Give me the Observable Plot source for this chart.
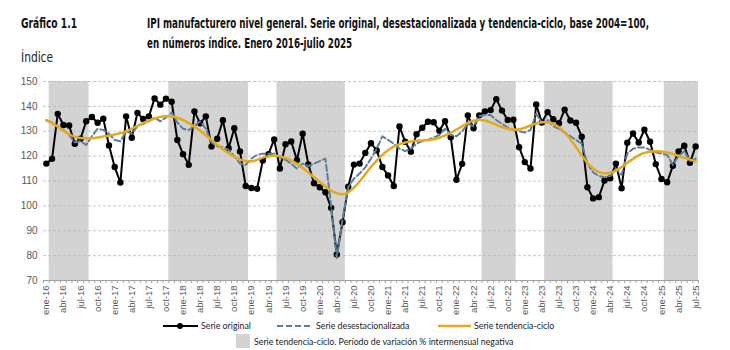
<!DOCTYPE html>
<html><head><meta charset="utf-8">
<script src="https://cdn.jsdelivr.net/npm/d3@7"></script>
<script src="https://cdn.jsdelivr.net/npm/@observablehq/plot@0.6"></script>
<style>
body{margin:0;background:#fff;width:730px;height:350px;position:relative;overflow:hidden;font-family:"Liberation Sans",Arial,sans-serif}
.t{position:absolute;font-family:"Liberation Sans Narrow","Arial Narrow","DejaVu Sans Condensed",sans-serif;font-weight:bold;font-size:14px;color:#111;white-space:nowrap;line-height:20px}
.t span, #ind span{display:inline-block;transform-origin:0 50%;white-space:nowrap}
#ind{position:absolute;left:21px;top:49px;font-family:"Liberation Sans Narrow","Arial Narrow","DejaVu Sans Condensed",sans-serif;font-size:14px;color:#222}
#chart{position:absolute;left:0;top:70px}
.leg{position:absolute;font-family:Lato,"Open Sans",sans-serif;font-size:8.8px;color:#222;white-space:nowrap;line-height:12px}
svg.sym{position:absolute}
</style></head><body>
<div class="t" style="left:21px;top:13px"><span id="g">Gráfico 1.1</span></div>
<div class="t" style="left:147px;top:13px"><span id="l1">IPI manufacturero nivel general. Serie original, desestacionalizada y tendencia-ciclo, base 2004=100,</span><br><span id="l2">en números índice. Enero 2016-julio 2025</span></div>
<div id="ind"><span id="ii">Índice</span></div>
<div id="chart"></div>

<svg class="sym" style="left:160px;top:320px" width="42" height="12"><line x1="3" y1="6" x2="38" y2="6" stroke="#000" stroke-width="2"/><circle cx="20" cy="6" r="3" fill="#000"/></svg>
<div class="leg" style="left:201px;top:320px">Serie original</div>
<svg class="sym" style="left:275px;top:320px" width="42" height="12"><line x1="2" y1="6" x2="37" y2="6" stroke="#5f7d99" stroke-width="2" stroke-dasharray="6,3"/></svg>
<div class="leg" style="left:316px;top:320px">Serie desestacionalizada</div>
<svg class="sym" style="left:436px;top:320px" width="42" height="12"><line x1="2" y1="6" x2="35" y2="6" stroke="#e2aa1c" stroke-width="2.5"/></svg>
<div class="leg" style="left:474px;top:320px">Serie tendencia-ciclo</div>
<svg class="sym" style="left:236px;top:334px" width="14" height="14"><rect x="0" y="0" width="14" height="14" fill="#d3d3d3"/></svg>
<div class="leg" style="left:254px;top:336px">Serie tendencia-ciclo. Período de variación % intermensual negativa</div>

<script>
const original = [117.0,118.9,137.0,132.5,132.3,125.0,127.0,134.0,135.7,133.4,
135.0,124.3,115.6,109.4,136.0,127.4,137.4,134.9,136.0,143.2,
140.7,143.1,141.9,126.5,120.8,116.5,138.0,133.2,136.0,123.9,
127.0,134.4,123.2,131.2,121.9,108.0,107.2,106.9,118.2,120.8,
126.7,115.0,124.8,125.9,118.4,129.0,116.7,109.1,107.5,105.5,
99.2,80.5,93.4,107.7,116.6,117.0,121.3,125.2,122.3,115.6,
112.2,108.0,131.9,125.8,121.8,128.8,131.4,133.8,133.6,130.2,
134.0,127.6,110.5,116.9,136.4,131.2,136.4,138.0,138.5,142.9,
138.3,134.5,134.6,123.6,117.6,115.0,140.8,133.5,137.7,134.8,
133.2,138.7,134.3,133.4,127.8,107.5,103.0,103.5,110.2,111.1,
117.0,107.1,125.4,129.1,125.5,130.6,125.8,116.8,110.8,109.5,
116.1,121.9,124.2,117.3,123.9];

const deseasonalized = [134.5,133.5,132.0,130.5,128.5,125.5,126.0,124.5,128.0,131.0,
130.5,129.0,126.5,126.0,130.0,129.0,132.0,133.0,134.0,135.5,
134.0,135.5,137.5,133.5,131.0,130.5,132.0,134.0,131.0,125.5,
124.0,123.5,122.5,120.0,117.0,116.5,119.0,120.5,121.0,121.0,
121.0,119.5,118.5,117.0,115.0,117.0,116.0,117.0,118.0,119.0,
100.0,79.0,94.5,107.5,111.0,113.0,115.5,119.0,123.0,128.0,
126.5,125.0,123.0,122.0,123.0,125.0,126.0,126.5,127.5,128.5,
131.0,128.5,128.0,130.0,133.0,132.0,136.0,136.5,136.5,134.5,
133.0,131.5,130.5,130.0,129.5,130.5,137.0,133.5,134.5,132.0,
131.0,129.5,128.0,126.5,125.0,117.0,113.5,112.0,111.5,112.0,
115.0,112.5,121.0,123.0,123.5,123.5,122.5,121.5,121.0,120.5,
116.5,120.0,122.0,118.0,119.0];

const trendCycle = [134.4,133.3,131.8,130.2,128.8,127.8,127.3,127.1,127.2,127.5,
127.9,128.3,128.7,129.2,130.0,131.0,132.2,133.3,134.3,135.1,
135.7,136.0,135.9,135.4,134.5,133.3,131.9,130.2,128.4,126.5,
124.6,122.8,121.2,119.8,118.7,118.0,117.9,118.5,119.4,120.0,
120.2,120.0,119.3,118.3,116.9,115.3,113.4,111.5,109.6,107.8,
106.2,105.1,104.7,105.4,107.3,109.8,112.7,115.6,118.2,120.5,
122.4,123.8,124.8,125.5,125.9,126.2,126.3,126.5,126.8,127.4,
128.3,129.4,130.7,132.0,133.4,134.2,134.5,134.3,133.6,132.6,
131.7,131.0,130.7,130.8,131.4,132.3,133.1,133.6,133.6,133.0,
131.6,129.5,126.8,123.6,120.3,117.3,115.0,113.6,113.1,113.3,
114.2,115.6,117.3,118.9,120.3,121.3,121.8,122.0,121.9,121.5,
120.9,120.1,119.3,118.6,117.9];

// month indices (0 = ene-16) of negative trend-cycle periods
const shadeStart = [1, 22, 41, 77, 88, 109];
const shadeEnd   = [7, 35, 52, 82, 99, 114];

const tickLabels = ["ene-16","abr-16","jul-16","oct-16","ene-17","abr-17","jul-17","oct-17",
"ene-18","abr-18","jul-18","oct-18","ene-19","abr-19","jul-19","oct-19",
"ene-20","abr-20","jul-20","oct-20","ene-21","abr-21","jul-21","oct-21",
"ene-22","abr-22","jul-22","oct-22","ene-23","abr-23","jul-23","oct-23",
"ene-24","abr-24","jul-24","oct-24","ene-25","abr-25","jul-25"];

const yTicks = [70,80,90,100,110,120,130,140,150];

const N = original.length;
const data = d3.range(N).map(i => ({i, o: original[i], d: deseasonalized[i], t: trendCycle[i]}));
const shades = shadeStart.map((s, k) => ({x1: s - 0.5, x2: shadeEnd[k] + 0.5}));
const labelIdx = tickLabels.map((_, k) => k * 3);
const minorTicks = d3.range(N + 1).map(i => i - 0.5);

const plot = Plot.plot({
  width: 730, height: 250,
  marginLeft: 43, marginRight: 32, marginTop: 11, marginBottom: 40,
  x: {domain: [-0.5, N - 0.5]},
  y: {domain: [70, 150]},
  style: {fontFamily: "'Liberation Sans', Arial, sans-serif", fontSize: "9.5px", color: "#595959", background: "#fff", overflow: "visible"},
  marks: [
    Plot.rect(shades, {x1: "x1", x2: "x2", y1: 70, y2: 150, fill: "#d3d3d3"}),
    Plot.gridY({ticks: yTicks.filter(v => v > 70), stroke: "#b8b8b8", strokeOpacity: 1, strokeDasharray: "3,2", strokeWidth: 0.8}),
    Plot.ruleY([70], {stroke: "#a0a0a0", strokeWidth: 1}),
    Plot.axisX({ticks: minorTicks, tickSize: 3, tickFormat: () => "", stroke: "#a0a0a0"}),
    Plot.axisX({ticks: labelIdx, tickFormat: i => tickLabels[i / 3], tickRotate: -90, tickSize: 0, tickPadding: 5, fontSize: 9.5}),
    Plot.axisY({ticks: yTicks, tickSize: 0, tickPadding: 6, fontSize: 10}),
    Plot.line(data, {x: "i", y: "o", stroke: "#000", strokeWidth: 2}),
    Plot.dot(data, {x: "i", y: "o", r: 3.2, fill: "#000"}),
    Plot.line(data, {x: "i", y: "d", stroke: "#5f7d99", strokeWidth: 2, strokeDasharray: "6,3"}),
    Plot.line(data, {x: "i", y: "t", stroke: "#e2aa1c", strokeWidth: 2.5, curve: "natural"})
  ]
});
document.getElementById("chart").appendChild(plot);

// fit text widths to the reference
function fit(id, w) {
  const el = document.getElementById(id);
  const s = w / el.getBoundingClientRect().width;
  el.style.transform = `scaleX(${s})`;
  return s;
}
const s1 = fit("l1", 502);
document.getElementById("l2").style.transform = `scaleX(${s1})`;
fit("g", 56);
fit("ii", 32);
</script>
</body></html>
